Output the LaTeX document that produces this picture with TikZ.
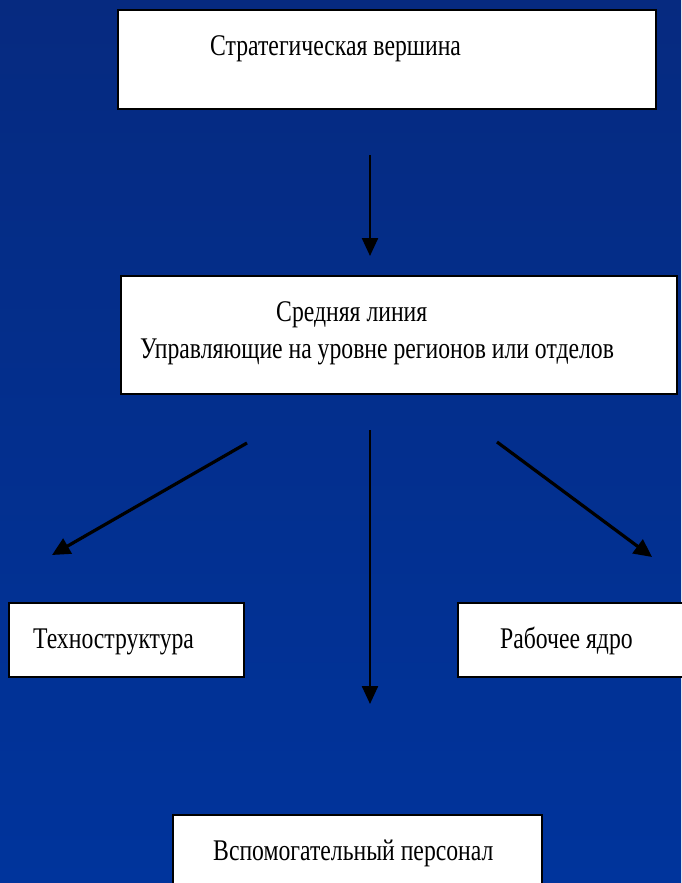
\documentclass[tikz,border=0pt]{standalone}
\usepackage{fontspec}
\setmainfont{Liberation Serif}[FakeStretch=0.79]
\usetikzlibrary{arrows.meta}
\definecolor{bgtop}{RGB}{6,42,128}
\definecolor{bgbot}{RGB}{0,52,156}
\begin{document}
\begin{tikzpicture}[x=1pt,y=-1pt,
  box/.style={draw=black, line width=1.6pt, fill=white, inner sep=0pt, anchor=north west},
  lbl/.style={anchor=base west, inner sep=0pt, font=\fontsize{30}{33}\selectfont},
  arr/.style={line width=3.2pt, -{Triangle[length=18pt,width=17pt]}},
  varr/.style={line width=2.4pt, -{Triangle[length=18pt,width=16pt]}}]
\useasboundingbox (0,0) rectangle (681,883);
\shade[top color=bgtop, bottom color=bgbot] (0,0) rectangle (681,883);
% boxes
\node[box, minimum width=538pt, minimum height=99pt] (top) at (117,9) {};
\node[box, minimum width=556pt, minimum height=118pt] (mid) at (120,275) {};
\node[box, minimum width=235pt, minimum height=74pt] (tech) at (8,602) {};
\node[box, minimum width=240pt, minimum height=74pt] (core) at (457,602) {};
\node[box, minimum width=369pt, minimum height=90pt] (supp) at (172,814) {};
% labels
\node[lbl] (t1) at (210,56) {Стратегическая вершина};
\node[lbl] (m1) at (276,321) {Средняя линия};
\node[lbl] (m2) at (140,358) {Управляющие на уровне регионов или отделов};
\node[lbl] (te) at (33,648) {Техноструктура};
\node[lbl] (co) at (500,648) {Рабочее ядро};
\node[lbl] (su) at (213,860) {Вспомогательный персонал};
% arrow ends
\coordinate (a1s) at (370,155); \coordinate (a1e) at (370,256);
\coordinate (a2s) at (247,443); \coordinate (a2e) at (52,555);
\coordinate (a3s) at (370,430); \coordinate (a3e) at (370,704);
\coordinate (a4s) at (497,442); \coordinate (a4e) at (652,557);
\draw[varr] (a1s) -- (a1e);
\draw[arr] (a2s) -- (a2e);
\draw[varr] (a3s) -- (a3e);
\draw[arr] (a4s) -- (a4e);
\end{tikzpicture}
\end{document}
